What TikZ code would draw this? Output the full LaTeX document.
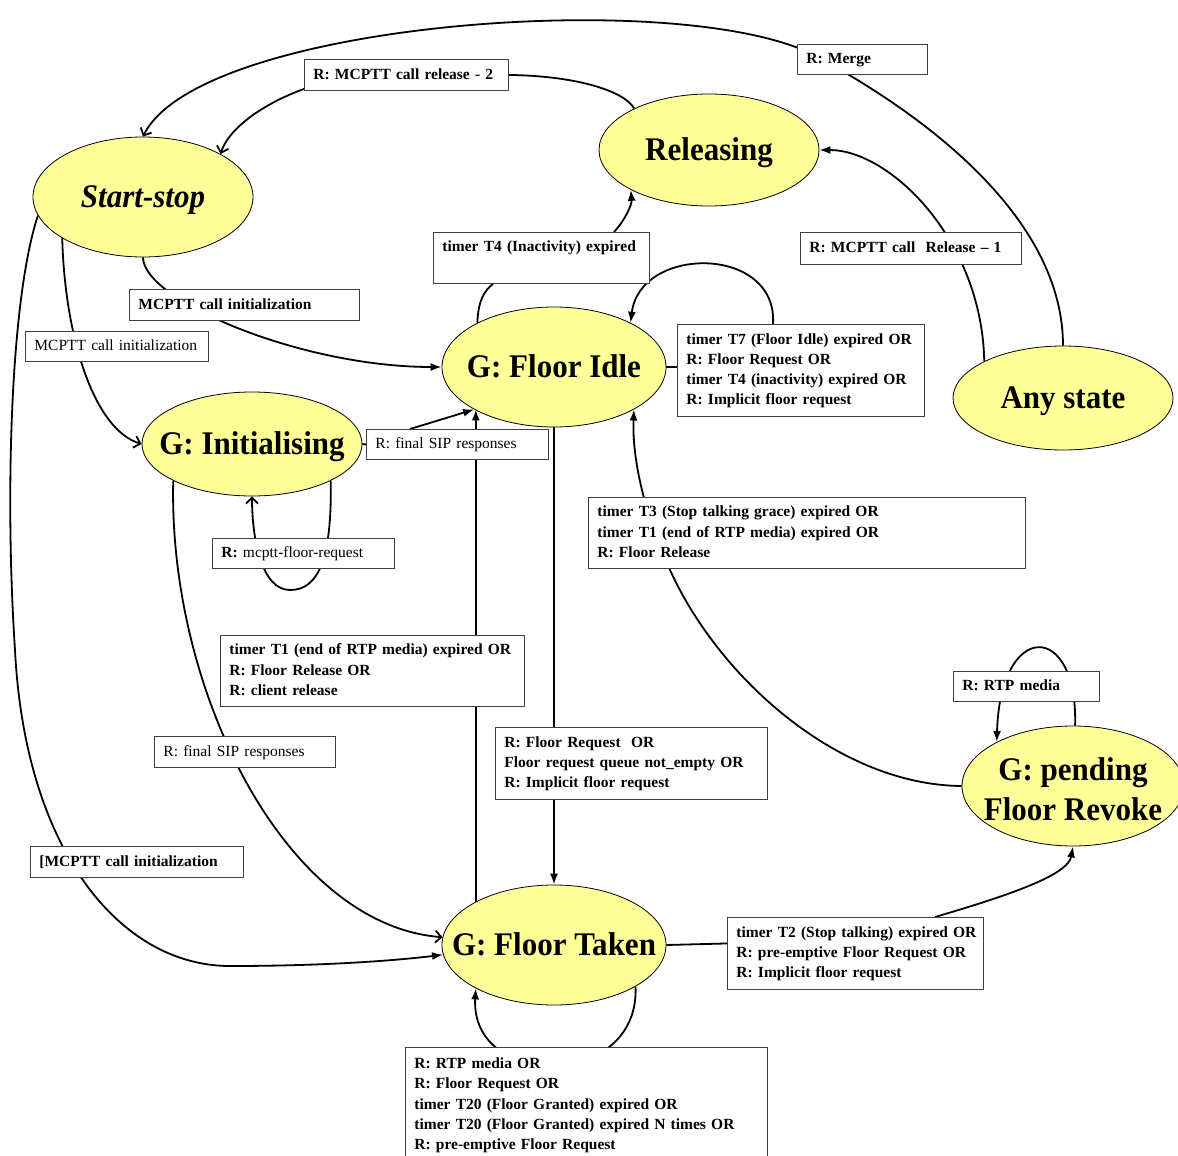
\documentclass[tikz,border=0pt]{standalone}
\usepackage{fontspec}
\setmainfont{Liberation Serif}
\newfontfamily\statefont[FakeStretch=0.94]{Liberation Serif}
\usetikzlibrary{shapes.geometric,arrows.meta,backgrounds}
\definecolor{styel}{RGB}{255,255,153}
\definecolor{boxgray}{RGB}{64,64,64}
\newcommand\stxt[1]{\smash{\makebox[0pt]{\raisebox{-0.33em}{#1}}}}
\newcommand\lbtab[1]{\begin{tabular}{@{}l@{}}#1\end{tabular}}
\begin{document}
\begin{tikzpicture}[x=1pt,y=-1pt,
  state/.style={ellipse, draw=black, line width=0.8pt, fill=styel, inner sep=0pt,
    font=\statefont\fontsize{33}{40}\selectfont\bfseries},
  lbl/.style={draw=boxgray, line width=0.9pt, fill=white, anchor=north west,
    inner xsep=9pt, inner ysep=0pt, align=left,
    font=\fontsize{15.5}{20.3}\selectfont\bfseries},
  lblr/.style={lbl, font=\fontsize{15.5}{20.3}\selectfont},
  conn/.style={line width=1.8pt, black},
  fa/.style={conn, -{Latex[length=11pt,width=8pt]}},
  oa/.style={conn, -{Straight Barb[length=6pt,width=12pt]}}
]
\useasboundingbox (0,0) rectangle (1178,1156);

% states
\node[state, minimum width=220pt, minimum height=120pt] (startstop) at (143,197) {\stxt{\itshape Start-stop}};
\node[state, minimum width=220pt, minimum height=112pt] (releasing) at (709,150) {\stxt{Releasing}};
\node[state, minimum width=224pt, minimum height=120pt] (idle) at (554,367) {\stxt{G: Floor Idle}};
\node[state, minimum width=220pt, minimum height=104pt] (any) at (1063,398) {\stxt{Any state}};
\node[state, minimum width=220pt, minimum height=104pt] (init) at (252,444) {\stxt{G: Initialising}};
\node[state, minimum width=222pt, minimum height=120pt] (pending) at (1073,786) {\smash{\makebox[0pt]{\raisebox{-0.39em}{\begin{tabular}{@{}c@{}}G: pending\\Floor Revoke\end{tabular}}}}};
\node[state, minimum width=224pt, minimum height=120pt] (taken) at (554,945) {\stxt{G: Floor Taken}};

% labels
\node[lbl, text width=186pt, minimum height=31pt] (bRel2) at (304,59) {\lbtab{R: MCPTT call release - 2}};
\node[lbl, text width=112pt, minimum height=30pt] (bMerge) at (797,44) {\lbtab{R: Merge}};
\node[lbl, text width=198pt, minimum height=51pt] (bT4) at (433,232) {\lbtab{timer T4 (Inactivity) expired\\ \mbox{}}};
\node[lbl, text width=203pt, minimum height=32pt] (bRel1) at (800,232) {\lbtab{R: MCPTT call\ \ Release – 1}};
\node[lbl, text width=212pt, minimum height=31pt] (bInitB) at (129,289) {\lbtab{MCPTT call initialization}};
\node[lblr, text width=165pt, minimum height=30pt] (bInitR) at (25,331) {\lbtab{MCPTT call initialization}};
\node[lbl, text width=229pt, minimum height=92pt] (bT7) at (677,324) {\lbtab{timer T7 (Floor Idle) expired OR\\R: Floor Request OR\\timer T4 (inactivity) expired OR\\R: Implicit floor request}};
\node[lblr, text width=164pt, minimum height=30pt] (bSipA) at (366,429) {\lbtab{R: final SIP responses}};
\node[lblr, text width=164pt, minimum height=30pt] (bMfr) at (212,538) {\lbtab{\textbf{R:} mcptt-floor-request}};
\node[lbl, text width=419pt, minimum height=71pt] (bT3) at (588,497) {\lbtab{timer T3 (Stop talking grace) expired OR\\timer T1 (end of RTP media) expired OR\\R: Floor Release}};
\node[lbl, text width=286pt, minimum height=71pt] (bT1) at (220,635) {\lbtab{timer T1 (end of RTP media) expired OR\\R: Floor Release OR\\R: client release}};
\node[lbl, text width=128pt, minimum height=30pt] (bRtp) at (953,671) {\lbtab{R: RTP media}};
\node[lbl, text width=254pt, minimum height=72pt] (bFr) at (495,727) {\lbtab{R: Floor Request\ \ OR\\Floor request queue not\_empty OR\\R: Implicit floor request}};
\node[lblr, text width=163pt, minimum height=31pt] (bSipB) at (154,736) {\lbtab{R: final SIP responses}};
\node[lbl, text width=195pt, minimum height=31pt] (bInitC) at (30,846) {\lbtab{{[}MCPTT call initialization}};
\node[lbl, text width=238pt, minimum height=72pt] (bT2) at (727,917) {\lbtab{timer T2 (Stop talking) expired OR\\R: pre-emptive Floor Request OR\\R: Implicit floor request}};
\node[lbl, text width=344pt, minimum height=115pt] (bTaken) at (405,1047) {\lbtab{R: RTP media OR\\R: Floor Request OR\\timer T20 (Floor Granted) expired OR\\timer T20 (Floor Granted) expired N times OR\\R: pre-emptive Floor Request}};

\begin{pgfonlayer}{background}
% Merge
\draw[oa] (any.north) .. controls (1063,230) and (950,130) .. ([xshift=25pt]bMerge.west)
  .. controls (700,-15) and (200,20) .. (startstop.north);
% MCPTT call release - 2
\draw[conn] (releasing.151) .. controls (625,92) and (580,76) .. (bRel2.east);
\draw[oa] ([yshift=2pt]bRel2.south west) .. controls (260,105) and (228,130) .. (startstop.29);
% MCPTT call Release - 1
\draw[fa] (any.155) .. controls (982,240) and (890,150) .. (releasing.east);
% T4 inactivity
\draw[conn] (idle.150) .. controls (478,300) and (485,290) .. ([xshift=60pt]bT4.south west);
\draw[fa] ([xshift=181pt]bT4.north west) .. controls (625,220) and (632,205) .. (releasing.207);
% Floor Idle self loop
\draw[conn] (idle.east) -- (idle.east -| bT7.west);
\draw[fa] ([xshift=96pt]bT7.north west) .. controls (778,245) and (640,245) .. (idle.30);
% Start-stop -> Floor Idle
\draw[fa] (startstop.south) .. controls (143,300) and (300,367) .. (idle.west);
% Start-stop -> Initialising
\draw[oa] (startstop.207) .. controls (65,340) and (95,430) .. (init.west);
% Start-stop -> Floor Taken
\draw[fa] (startstop.190) .. controls (10,300) and (5,500) .. (15,650)
  .. controls (25,850) and (120,966) .. (230,966)
  .. controls (330,966) and (400,960) .. (taken.185);
% Initialising -> Floor Idle
\draw[conn] (init.east) -- (bSipA.west);
\draw[fa] ([xshift=44pt]bSipA.north west) -- (idle.208);
% Floor Taken -> Floor Idle
\draw[fa] (taken.151) -- (taken.151 |- idle.208);
% Floor Idle -> Floor Taken
\draw[fa] (idle.south) -- (taken.north);
% Initialising self loop
\draw[oa] (init.-25) .. controls (332,560) and (318,590) .. (290,590)
  .. controls (262,590) and (252,540) .. (init.south);
% Initialising -> Floor Taken
\draw[oa] (init.205) .. controls (168,690) and (285,925) .. (taken.176);
% Floor Taken self loop
\draw[fa] (taken.333) .. controls (640,1090) and (470,1090) .. (taken.209);
% Floor Taken -> pending Floor Revoke
\draw[conn] (taken.east) -- ([yshift=10pt]bT2.west);
\draw[fa] ([xshift=208pt]bT2.north west) .. controls (1010,895) and (1068,875) .. (pending.south);
% pending self loop
\draw[fa] (pending.88) .. controls (1078,620) and (1000,620) .. (pending.150);
% pending -> Floor Idle
\draw[fa] (pending.west) .. controls (840,785) and (720,680) .. (670,570)
  .. controls (645,515) and (632,460) .. (idle.332);
\end{pgfonlayer}
\end{tikzpicture}
\end{document}
